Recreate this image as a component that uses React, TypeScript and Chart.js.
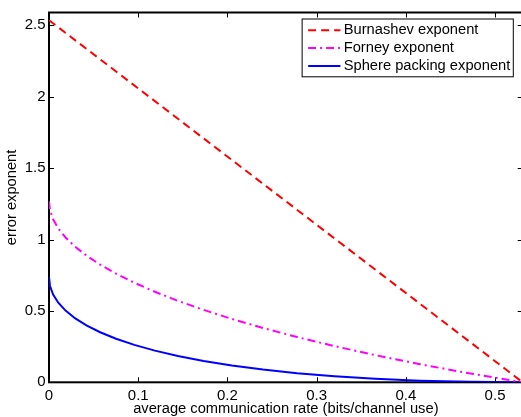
import React, { useEffect, useRef } from "react";
import { Chart, registerables } from "chart.js";
Chart.register(...registerables);

// ---- data ----
const burnashevRate = [0, 0.531];
const burnashevExp = [2.536, 0];

const rate = [0, 0.00116, 0.00462, 0.01041, 0.01855, 0.02905, 0.04196, 0.05732, 0.07518, 0.09562, 0.11871, 0.14455, 0.17325, 0.20496, 0.23983, 0.27807, 0.31992, 0.36569, 0.41576, 0.47064, 0.531];
const forneyExp = [1.268, 1.2046, 1.1412, 1.0778, 1.0144, 0.951, 0.8876, 0.8242, 0.7608, 0.6974, 0.634, 0.5706, 0.5072, 0.4438, 0.3804, 0.317, 0.2536, 0.1902, 0.1268, 0.0634, 0];
const spherePackingExp = [0.737, 0.6747, 0.6148, 0.5572, 0.5019, 0.449, 0.3985, 0.3505, 0.305, 0.262, 0.2217, 0.1841, 0.1494, 0.1177, 0.0892, 0.0641, 0.0425, 0.0249, 0.0116, 0.003, 0];

const seriesLabels = ["Burnashev exponent", "Forney exponent", "Sphere packing exponent"];
const xTicks = [0, 0.1, 0.2, 0.3, 0.4, 0.5];
const yTicks = [0, 0.5, 1, 1.5, 2, 2.5];
const xTickLabels = ["0", "0.1", "0.2", "0.3", "0.4", "0.5"];
const yTickLabels = ["0", "0.5", "1", "1.5", "2", "2.5"];
const xTitle = "average communication rate (bits/channel use)";
const yTitle = "error exponent";
const xMin = 0, xMax = 0.531, yMin = 0, yMax = 2.59;

const FONT = '"Liberation Sans", Arial, Helvetica, sans-serif';
const CANVAS_W = 530;
const CANVAS_H = 417;

const framePlugin = {
  id: "matlabFrame",
  beforeDatasetsDraw(chart: any) {
    const { ctx, chartArea: a, scales } = chart;
    const x = scales.x, y = scales.y;
    ctx.save();
    ctx.strokeStyle = "#000";
    ctx.lineWidth = 1;
    ctx.beginPath();
    for (const t of xTicks) {
      const px = Math.round(x.getPixelForValue(t)) + 0.5;
      ctx.moveTo(px, a.bottom);
      ctx.lineTo(px, a.bottom - 5);
      ctx.moveTo(px, a.top);
      ctx.lineTo(px, a.top + 5);
    }
    for (const t of yTicks) {
      const py = Math.round(y.getPixelForValue(t)) + 0.5;
      ctx.moveTo(a.left, py);
      ctx.lineTo(a.left + 5, py);
      ctx.moveTo(a.right, py);
      ctx.lineTo(a.right - 5, py);
    }
    ctx.stroke();
    ctx.lineWidth = 2;
    ctx.strokeRect(a.left, a.top, a.right - a.left, a.bottom - a.top);
    ctx.restore();
  },
  afterDraw(chart: any) {
    const { ctx, chartArea: a } = chart;
    const ds = chart.data.datasets;
    ctx.save();
    ctx.font = `14.7px ${FONT}`;
    const maxW = Math.max(...ds.map((d: any) => ctx.measureText(d.label).width));
    const right = a.right - 9.4;
    const top = a.top + 6.5;
    const h = 57.8;
    const w = 6 + 32.3 + 3.3 + maxW + 3;
    const left = right - w;
    ctx.fillStyle = "#fff";
    ctx.fillRect(left, top, w, h);
    ctx.strokeStyle = "#000";
    ctx.lineWidth = 1;
    ctx.strokeRect(left, top, w, h);
    ds.forEach((d: any, i: number) => {
      const cy = top + 11.2 + i * 17.9;
      ctx.beginPath();
      ctx.setLineDash(d.borderDash || []);
      ctx.strokeStyle = d.borderColor;
      ctx.lineWidth = d.borderWidth;
      ctx.moveTo(left + 6, cy);
      ctx.lineTo(left + 38.3, cy);
      ctx.stroke();
      ctx.setLineDash([]);
      ctx.fillStyle = "#000";
      ctx.textBaseline = "middle";
      ctx.textAlign = "left";
      ctx.fillText(d.label, left + 41.6, cy);
    });
    ctx.restore();
  },
};

export default function App() {
  const ref = useRef<HTMLCanvasElement | null>(null);
  useEffect(() => {
    if (!ref.current) return;
    const toPts = (xs: number[], ys: number[]) => xs.map((v, i) => ({ x: v, y: ys[i] }));
    const chart = new Chart(ref.current, {
      type: "line",
      data: {
        datasets: [
          {
            label: seriesLabels[0],
            data: toPts(burnashevRate, burnashevExp),
            borderColor: "#ff0000",
            borderWidth: 2,
            borderDash: [8, 5],
            pointRadius: 0,
            fill: false,
          },
          {
            label: seriesLabels[1],
            data: toPts(rate, forneyExp),
            borderColor: "#ff00ff",
            borderWidth: 2,
            borderDash: [8, 4, 2, 4],
            pointRadius: 0,
            fill: false,
          },
          {
            label: seriesLabels[2],
            data: toPts(rate, spherePackingExp),
            borderColor: "#0000ff",
            borderWidth: 2,
            pointRadius: 0,
            fill: false,
          },
        ],
      },
      options: {
        responsive: false,
        animation: false,
        devicePixelRatio: 1,
        layout: { padding: { top: 9, right: CANVAS_W - 522.7, left: 0, bottom: 0 } },
        plugins: { legend: { display: false }, tooltip: { enabled: false } },
        scales: {
          x: {
            type: "linear",
            min: xMin,
            max: xMax,
            grid: { display: false, drawTicks: false },
            border: { display: false },
            afterBuildTicks: (s: any) => { s.ticks = xTicks.map((v) => ({ value: v })); },
            afterFit: (s: any) => { s.height = CANVAS_H - 382.3; },
            ticks: {
              autoSkip: false,
              maxRotation: 0,
              padding: 5,
              color: "#000",
              font: { family: FONT, size: 15 },
              callback: (v: any) => xTickLabels[xTicks.indexOf(Number(v))] ?? "",
            },
            title: {
              display: true,
              text: xTitle,
              color: "#000",
              font: { family: FONT, size: 14.7, lineHeight: 1.1 },
              padding: { top: 0, bottom: 0 },
            },
          },
          y: {
            type: "linear",
            min: yMin,
            max: yMax,
            grid: { display: false, drawTicks: false },
            border: { display: false },
            afterBuildTicks: (s: any) => { s.ticks = yTicks.map((v) => ({ value: v })); },
            afterFit: (s: any) => { s.width = 49; },
            ticks: {
              autoSkip: false,
              padding: 3.5,
              color: "#000",
              font: { family: FONT, size: 15 },
              callback: (v: any) => yTickLabels[yTicks.indexOf(Number(v))] ?? "",
            },
            title: {
              display: true,
              text: yTitle,
              color: "#000",
              font: { family: FONT, size: 14.7 },
              padding: { top: 3.5, bottom: 0 },
            },
          },
        },
      },
      plugins: [framePlugin],
    });
    return () => chart.destroy();
  }, []);

  return (
    <div style={{ position: "absolute", left: 0, top: 0, width: 521, height: 417, overflow: "hidden", background: "#fff" }}>
      <canvas ref={ref} width={CANVAS_W} height={CANVAS_H} style={{ display: "block" }} />
    </div>
  );
}
